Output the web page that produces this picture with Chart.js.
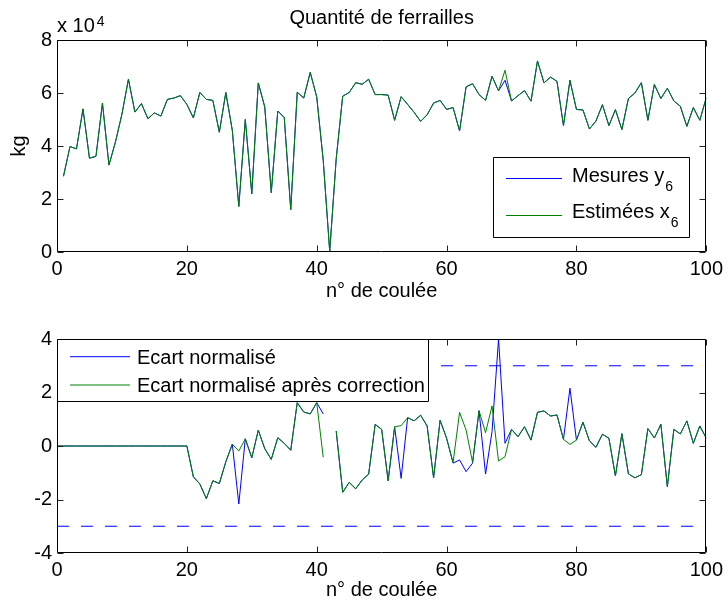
<!DOCTYPE html>
<html>
<head>
<meta charset="utf-8">
<script src="https://cdn.jsdelivr.net/npm/chart.js@4.4.0/dist/chart.umd.min.js"></script>
<style>
  body { margin: 0; background: #fff; }
  #wrap { position: relative; width: 728px; height: 607px; }
  canvas { position: absolute; left: 0; }
</style>
</head>
<body>
<div id="wrap">
  <canvas id="chartTop" width="728" height="305" style="top:0"></canvas>
  <canvas id="chartBottom" width="728" height="302" style="top:305px"></canvas>
</div>
<script>
// ---- Données : quantité de ferrailles (kg), coulées 1..100
const mesuresY6 = [
  28600, 39800, 38900, 54000, 35400, 36100, 56200, 32800, 41500, 52000,
  65200, 52800, 56000, 50300, 52500, 51300, 57600, 58100, 59000, 55700,
  50600, 60200, 57600, 57200, 45200, 60200, 45900, 17200, 50000, 22000,
  63800, 54700, 22400, 53200, 50700, 16000, 60300, 58100, 67800, 58500,
  34600, 200, 35200, 58800, 60200, 63900, 63300, 65200, 59400, 59400,
  59200, 49700, 58600, 55700, 52700, 49300, 51800, 56200, 57200, 53800,
  54500, 45700, 62300, 63500, 59400, 57200, 66300, 60800, 64800, 57000,
  59000, 60900, 56900, 72100, 63800, 66000, 64400, 47700, 64800, 53800,
  53600, 46400, 49400, 55600, 47700, 53700, 46200, 57900, 60000, 63900,
  49700, 63200, 57900, 61800, 57000, 55000, 47400, 54500, 49700, 58300
];
const estimeesX6 = [
  28600, 39800, 38900, 54000, 35400, 36100, 56200, 32800, 41500, 52000,
  65200, 52800, 56000, 50300, 52500, 51300, 57600, 58100, 59000, 55700,
  50600, 60200, 57600, 57200, 45200, 60200, 45900, 17200, 50000, 22000,
  63800, 54700, 22400, 53200, 50700, 16000, 60300, 58100, 67800, 58500,
  34600, 200, 35200, 58800, 60200, 63900, 63300, 65200, 59400, 59400,
  59200, 49700, 58600, 55700, 52700, 49300, 51800, 56200, 57200, 53800,
  54500, 45700, 62300, 63500, 59400, 57200, 66300, 60800, 68600, 57000,
  59000, 60900, 56900, 72100, 63800, 66000, 64400, 47700, 64800, 53800,
  53600, 46400, 49400, 55600, 47700, 53700, 46200, 57900, 60000, 63900,
  49700, 63200, 57900, 61800, 57000, 55000, 47400, 54500, 49700, 58300
];

// ---- Ecart normalisé, coulées 0..100 (null = pas de valeur)
const ecartNorm = [
  0, 0, 0, 0, 0, 0, 0, 0, 0, 0, 0,
  0, 0, 0, 0, 0, 0, 0, 0, 0, 0,
  -1.15, -1.42, -1.97, -1.30, -1.40, -0.59, 0.07, -2.17, 0.27, -0.44,
  0.59, -0.10, -0.50, 0.31, 0.10, -0.16, 1.62, 1.27, 1.20, 1.62,
  1.20, null, 0.56, -1.73, -1.36, -1.60, -1.27, -1.05, 0.81, 0.62,
  -1.30, 0.72, -1.21, 1.06, 0.94, 1.15, 0.75, -1.19, 0.96, 0.29,
  -0.64, -0.52, -0.96, -0.64, 1.32, -1.05, 0.54, 4.00, 0.10, 0.62,
  0.35, 0.72, 0.22, 1.26, 1.31, 1.12, 1.16, 0.25, 2.16, 0.22,
  0.89, 0.19, -0.05, 0.44, 0.29, -1.12, 0.46, -1.04, -1.19, -1.07,
  0.65, 0.30, 0.81, -1.52, 0.62, 0.45, 0.94, 0.10, 0.75, 0.29
];
const ecartCorrige = [
  0, 0, 0, 0, 0, 0, 0, 0, 0, 0, 0,
  0, 0, 0, 0, 0, 0, 0, 0, 0, 0,
  -1.15, -1.42, -1.97, -1.30, -1.40, -0.59, 0.07, -0.19, 0.27, -0.44,
  0.59, -0.10, -0.50, 0.31, 0.10, -0.16, 1.62, 1.27, 1.20, 1.62,
  -0.42, null, 0.56, -1.73, -1.36, -1.60, -1.27, -1.05, 0.81, 0.62,
  -1.30, 0.72, 0.76, 1.06, 0.94, 1.15, 0.75, -1.19, 0.96, 0.29,
  -0.62, 1.26, 0.60, -0.61, 1.32, 0.50, 1.50, -0.56, -0.40, 0.62,
  0.35, 0.72, 0.22, 1.26, 1.31, 1.12, 1.16, 0.25, 0.06, 0.22,
  0.89, 0.19, -0.05, 0.44, 0.29, -1.12, 0.46, -1.04, -1.19, -1.07,
  0.65, 0.30, 0.81, -1.52, 0.62, 0.45, 0.94, 0.10, 0.75, 0.29
];
const seuils = [3, -3];
const xLimites = [0, 100];

const BLEU = '#0000ff';
const VERT = '#008000';
const FONT = "'Liberation Sans', Arial, Helvetica, sans-serif";

Chart.defaults.font.family = FONT;
Chart.defaults.font.size = 20;
Chart.defaults.color = '#000';

// points {x, y} à partir des tableaux
const enPoints = (vals, debut) => vals.map((v, i) => ({ x: i + debut, y: v }));

// Cadre "à la Matlab" : boîte, graduations intérieures, légende, titre
const matlabFrame = {
  id: 'matlabFrame',
  afterDatasetsDraw(chart, args, opts) {
    const { ctx, chartArea: a, scales } = chart;
    const L = Math.round(a.left) + 0.5, R = Math.round(a.right) - 0.5;
    const T = Math.round(a.top) + 0.5, B = Math.round(a.bottom) - 0.5;
    ctx.save();
    ctx.setLineDash([]);
    ctx.lineWidth = 1;
    ctx.strokeStyle = '#222';
    ctx.beginPath();
    scales.x.ticks.forEach(t => {
      const px = Math.round(scales.x.getPixelForValue(t.value)) + 0.5;
      ctx.moveTo(px, B); ctx.lineTo(px, B - 6);
      ctx.moveTo(px, T); ctx.lineTo(px, T + 6);
    });
    scales.y.ticks.forEach(t => {
      const py = Math.round(scales.y.getPixelForValue(t.value)) + 0.5;
      ctx.moveTo(L, py); ctx.lineTo(L + 6, py);
      ctx.moveTo(R, py); ctx.lineTo(R - 6, py);
    });
    ctx.stroke();
    ctx.strokeStyle = '#000';
    ctx.beginPath();
    ctx.rect(L, T, R - L, B - T);
    ctx.stroke();

    // légende (limitée à sa propre boîte)
    const lg = opts.legend;
    if (lg) {
      ctx.save();
      ctx.beginPath();
      ctx.rect(lg.x, lg.y, lg.w + 1, lg.h + 1);
      ctx.clip();
      const x0 = lg.x + 0.5, y0 = lg.y + 0.5, x1 = lg.x + lg.w + 0.5, y1 = lg.y + lg.h + 0.5;
      ctx.fillStyle = '#fff';
      ctx.fillRect(x0, y0, lg.w, lg.h);
      ctx.strokeStyle = '#000';
      ctx.beginPath();
      ctx.moveTo(x0, y0); ctx.lineTo(x1, y0); ctx.lineTo(x1, y1); ctx.lineTo(x0, y1); ctx.closePath();
      ctx.stroke();
      lg.items.forEach((it, i) => {
        const ly = lg.rows[i];
        ctx.strokeStyle = it.color;
        ctx.beginPath();
        ctx.moveTo(lg.x1, ly); ctx.lineTo(lg.x2, ly);
        ctx.stroke();
        ctx.fillStyle = '#000';
        ctx.font = '20px ' + FONT;
        ctx.textBaseline = 'alphabetic';
        ctx.textAlign = 'left';
        ctx.fillText(it.text, lg.tx, lg.base[i]);
        if (it.sub) {
          const w = ctx.measureText(it.text).width;
          ctx.font = '14px ' + FONT;
          ctx.fillText(it.sub, lg.tx + w + 1, lg.base[i] + 9);
        }
      });
      ctx.restore();
    }

    // titre et facteur d'échelle
    if (opts.title) {
      ctx.fillStyle = '#000';
      ctx.font = '20px ' + FONT;
      ctx.textAlign = 'center';
      ctx.textBaseline = 'alphabetic';
      ctx.fillText(opts.title, (a.left + a.right) / 2, 24);
    }
    if (opts.exposant) {
      ctx.fillStyle = '#000';
      ctx.textAlign = 'left';
      ctx.font = '20px ' + FONT;
      ctx.fillText('x 10', a.left, 32);
      const w = ctx.measureText('x 10').width;
      ctx.font = '14px ' + FONT;
      ctx.fillText(opts.exposant, a.left + w + 2, 26);
    }
    ctx.restore();
  }
};

const axeX = (hauteur, padTitre) => ({
  type: 'linear',
  min: xLimites[0], max: xLimites[1],
  grid: { display: false, drawTicks: false },
  border: { display: false },
  ticks: { stepSize: 20, padding: 5, maxRotation: 0 },
  title: { display: true, text: 'n° de coulée', padding: { top: 0, bottom: padTitre } },
  afterFit: s => { s.height = hauteur; }
});

// ---- Graphique du haut
new Chart(document.getElementById('chartTop'), {
  type: 'line',
  data: {
    datasets: [
      { label: 'Mesures y6', data: enPoints(mesuresY6, 1), borderColor: BLEU, borderWidth: 1, pointRadius: 0, order: 1 },
      { label: 'Estimées x6', data: enPoints(estimeesX6, 1), borderColor: VERT, borderWidth: 1, pointRadius: 0, order: 0 }
    ]
  },
  options: {
    responsive: false,
    animation: false,
    layout: { padding: { left: 0, right: 19, top: 40, bottom: 0 } },
    plugins: {
      legend: { display: false },
      tooltip: { enabled: false },
      matlabFrame: {
        title: 'Quantité de ferrailles',
        exposant: '4',
        legend: {
          x: 493, y: 157, w: 196, h: 80,
          x1: 506, x2: 562, tx: 572,
          rows: [178.5, 215.5], base: [182, 218],
          items: [
            { text: 'Mesures y', sub: '6', color: BLEU },
            { text: 'Estimées x', sub: '6', color: VERT }
          ]
        }
      }
    },
    scales: {
      x: axeX(53, 2),
      y: {
        min: 0, max: 80000,
        grid: { display: false, drawTicks: false },
        border: { display: false },
        ticks: { stepSize: 20000, padding: 5, callback: v => v / 10000 },
        title: { display: true, text: 'kg', padding: { top: 7, bottom: 0 } },
        afterFit: s => { s.width = 57; }
      }
    }
  },
  plugins: [matlabFrame]
});

// ---- Graphique du bas
new Chart(document.getElementById('chartBottom'), {
  type: 'line',
  data: {
    datasets: [
      { label: 'Ecart normalisé', data: enPoints(ecartNorm, 0), borderColor: BLEU, borderWidth: 1, pointRadius: 0, spanGaps: false, order: 1 },
      { label: 'Ecart normalisé après correction', data: enPoints(ecartCorrige, 0), borderColor: VERT, borderWidth: 1, pointRadius: 0, spanGaps: false, order: 0 },
      ...seuils.map(s => ({
        label: 'seuil ' + s,
        data: xLimites.map(x => ({ x, y: s })),
        borderColor: BLEU, borderWidth: 1, borderDash: [12, 12], pointRadius: 0, order: 2
      }))
    ]
  },
  options: {
    responsive: false,
    animation: false,
    layout: { padding: { left: 0, right: 19, top: 34, bottom: 0 } },
    plugins: {
      legend: { display: false },
      tooltip: { enabled: false },
      matlabFrame: {
        legend: {
          x: 57, y: 34, w: 371, h: 62,
          x1: 70, x2: 130, tx: 137,
          rows: [51.7, 80], base: [59, 87],
          items: [
            { text: 'Ecart normalisé', color: BLEU },
            { text: 'Ecart normalisé après correction', color: VERT }
          ]
        }
      }
    },
    scales: {
      x: axeX(54, 5),
      y: {
        min: -4, max: 4,
        grid: { display: false, drawTicks: false },
        border: { display: false },
        ticks: { stepSize: 2, padding: 5 },
        afterFit: s => { s.width = 57; }
      }
    }
  },
  plugins: [matlabFrame]
});
</script>
</body>
</html>
